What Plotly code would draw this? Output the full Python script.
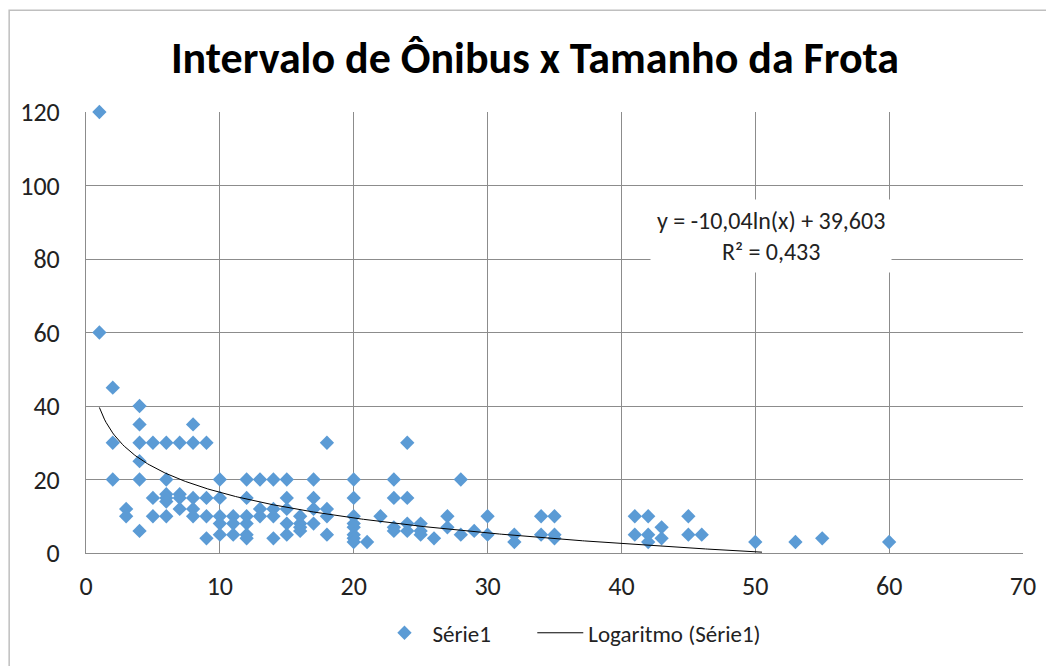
import numpy as np
import plotly.graph_objects as go

FONT = "Calibri, Carlito, Lato, sans-serif"
BLUE = "#5B9BD5"
GRID = "#8C8C8C"

# frota (x) -> intervalos observados (y)
frota = [1, 1,
         2, 2, 2,
         3, 3,
         4, 4, 4, 4, 4, 4,
         5, 5, 5,
         6, 6, 6, 6, 6, 6,
         7, 7, 7, 7,
         8, 8, 8, 8, 8,
         9, 9, 9, 9,
         10, 10, 10, 10, 10,
         11, 11, 11,
         12, 12, 12, 12, 12, 12,
         13, 13, 13,
         14, 14, 14, 14,
         15, 15, 15, 15, 15,
         16, 16, 16, 16,
         17, 17, 17, 17,
         18, 18, 18, 18,
         20, 20, 20, 20, 20, 20, 20, 20,
         21, 22,
         23, 23, 23, 23,
         24, 24, 24, 24,
         25, 25, 25,
         26,
         27, 27,
         28, 28,
         29,
         30, 30,
         32, 32,
         34, 34,
         35, 35, 35,
         41, 41,
         42, 42, 42,
         43, 43,
         45, 45,
         46, 50, 53, 55, 60]
intervalo = [120, 60,
             45, 30, 20,
             12, 10,
             40, 35, 30, 25, 20, 6,
             30, 15, 10,
             30, 20, 16, 15, 14, 10,
             30, 16, 15, 12,
             35, 30, 15, 12, 10,
             30, 15, 10, 4,
             20, 15, 10, 8, 5,
             10, 8, 5,
             20, 15, 10, 8, 5, 4,
             20, 12, 10,
             20, 12, 10, 4,
             20, 15, 12, 8, 5,
             10, 8, 7, 6,
             20, 15, 12, 8,
             30, 12, 10, 5,
             20, 15, 10, 8, 7, 5, 4, 3,
             3, 10,
             20, 15, 7, 6,
             30, 15, 8, 6,
             8, 6, 5,
             4,
             10, 7,
             20, 5,
             6,
             10, 5,
             5, 3,
             10, 5,
             10, 5, 4,
             10, 5,
             10, 5, 3,
             7, 4,
             10, 5,
             5, 3, 3, 4, 3]

# trend line coefficients (Excel), drawn until it meets the axis floor
coef_a = -10.04
coef_b = 39.603
r2 = 0.433

xt = np.linspace(1, 50.5, 400)
yt = coef_a * np.log(xt) + coef_b

pad = "\u00a0" * 7  # extra room between legend entries

fig = go.Figure()
fig.add_trace(go.Scatter(x=frota, y=intervalo, mode="markers", name="Série1" + pad, cliponaxis=False,
                         marker=dict(symbol="diamond", size=11, color=BLUE)))
fig.add_trace(go.Scatter(x=xt, y=yt, mode="lines", name="Logaritmo (Série1)",
                         line=dict(color="black", width=1)))

fig.add_annotation(x=51.2, y=86.3, xref="x", yref="y",
                   text="y = -10,04ln(x) + 39,603<br>R² = 0,433",
                   showarrow=False, align="center", bgcolor="white",
                   borderpad=6, font=dict(family=FONT, size=24, color="#222"))

fig.add_shape(type="rect", xref="paper", yref="paper",
              x0=-0.082, x1=1.2, y0=-0.5, y1=1.231,
              line=dict(color="#BFBFBF", width=1.5), fillcolor="rgba(0,0,0,0)", layer="below")

fig.update_layout(
    width=1054, height=666,
    paper_bgcolor="white", plot_bgcolor="white",
    margin=dict(l=74, r=39, t=104, b=121),
    font=dict(family=FONT, size=24, color="#222"),
    title=dict(text="<b>Intervalo de Ônibus x Tamanho da Frota</b>", x=0.5, xanchor="center",
               y=0.925, yanchor="middle", font=dict(family=FONT, size=44, color="black")),
    xaxis=dict(range=[0, 70], dtick=10, showgrid=True, gridcolor=GRID, gridwidth=1,
               showline=True, linecolor=GRID, zeroline=False, ticks="",
               ticklabelstandoff=10, tickfont=dict(size=26)),
    yaxis=dict(range=[0, 120], dtick=20, showgrid=True, gridcolor=GRID, gridwidth=1,
               showline=True, linecolor=GRID, zeroline=False, ticks="",
               ticklabelstandoff=20, tickfont=dict(size=26)),
    showlegend=True,
    legend=dict(orientation="h", x=0.31, xanchor="left", y=-0.181, yanchor="middle",
                font=dict(size=23), itemwidth=46, bgcolor="rgba(0,0,0,0)"),
)

fig.write_html("out.html")
